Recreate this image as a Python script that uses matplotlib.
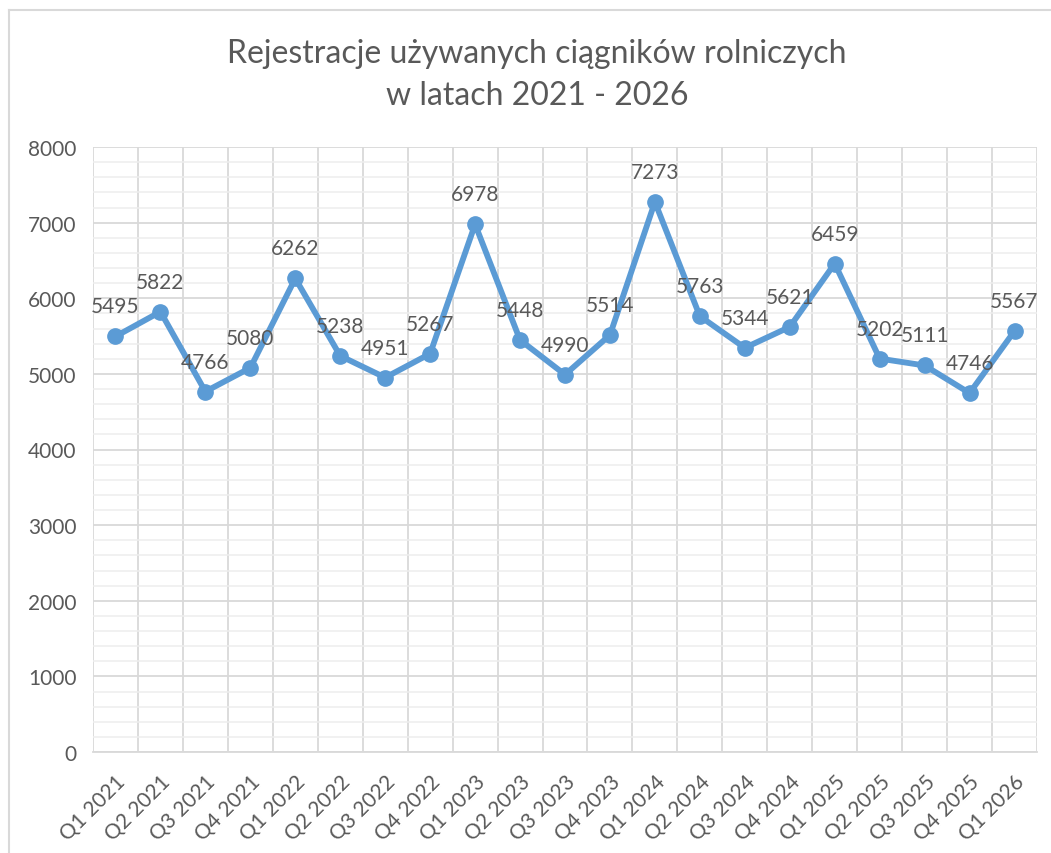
import matplotlib.pyplot as plt
from matplotlib.lines import Line2D
from matplotlib.ticker import MultipleLocator

quarters = [
    'Q1 2021', 'Q2 2021', 'Q3 2021', 'Q4 2021',
    'Q1 2022', 'Q2 2022', 'Q3 2022', 'Q4 2022',
    'Q1 2023', 'Q2 2023', 'Q3 2023', 'Q4 2023',
    'Q1 2024', 'Q2 2024', 'Q3 2024', 'Q4 2024',
    'Q1 2025', 'Q2 2025', 'Q3 2025', 'Q4 2025',
    'Q1 2026',
]
registrations = [
    5495, 5822, 4766, 5080,
    6262, 5238, 4951, 5267,
    6978, 5448, 4990, 5514,
    7273, 5763, 5344, 5621,
    6459, 5202, 5111, 4746,
    5567,
]
title = 'Rejestracje używanych ciągników rolniczych\nw latach 2021 - 2026'

line_color = '#5B9BD5'
text_color = '#595959'
major_grid = '#D9D9D9'
minor_grid = '#EDEDED'

plt.rcParams['font.family'] = ['Lato', 'DejaVu Sans']

fig = plt.figure(figsize=(10.51, 8.54), dpi=100)
ax = fig.add_axes([93 / 1051, 1 - 753 / 854, (1037 - 93) / 1051, (753 - 148) / 854])

x = list(range(len(quarters)))
ax.plot(x, registrations, color=line_color, linewidth=4.2, marker='o',
        markersize=11, zorder=3, solid_capstyle='round', solid_joinstyle='round')

for xi, value in zip(x, registrations):
    ax.annotate(str(value), (xi, value), xytext=(0, 20), textcoords='offset pixels',
                ha='center', va='bottom', fontsize=15, color=text_color, zorder=4)

ax.set_xlim(-0.5, len(quarters) - 0.5)
ax.set_ylim(0, 8000)
ax.yaxis.set_major_locator(MultipleLocator(1000))
ax.yaxis.set_minor_locator(MultipleLocator(200))

# vertical gridlines sit on category boundaries
for boundary in range(len(quarters) + 1):
    ax.axvline(boundary - 0.5, color=major_grid, linewidth=1.3, zorder=1)
ax.grid(which='major', axis='y', color=major_grid, linewidth=1.3, zorder=1)
ax.grid(which='minor', axis='y', color=minor_grid, linewidth=1.1, zorder=0)

for spine in ax.spines.values():
    spine.set_visible(False)
ax.spines['bottom'].set_visible(True)
ax.spines['bottom'].set_color(major_grid)
ax.spines['bottom'].set_linewidth(1.3)

ax.set_xticks(x)
ax.set_xticklabels(quarters, rotation=45, ha='right', va='top', rotation_mode='anchor')
ax.tick_params(axis='both', which='both', length=0, colors=text_color, labelsize=15)
ax.tick_params(axis='y', pad=12)
ax.tick_params(axis='x', pad=14)

fig.text(0.511, 1 - 75 / 854, title, ha='center', va='center', fontsize=23,
         color=text_color, linespacing=1.5)

# chart-area frame (cropped screenshot: only top and left visible)
fig.add_artist(Line2D([9 / 1051, 9 / 1051], [0, 1 - 11 / 854], transform=fig.transFigure,
                      color=major_grid, linewidth=1.5))
fig.add_artist(Line2D([9 / 1051, 1], [1 - 11 / 854, 1 - 11 / 854], transform=fig.transFigure,
                      color=major_grid, linewidth=1.5))

fig.savefig('out.png', dpi=100, facecolor='white')
